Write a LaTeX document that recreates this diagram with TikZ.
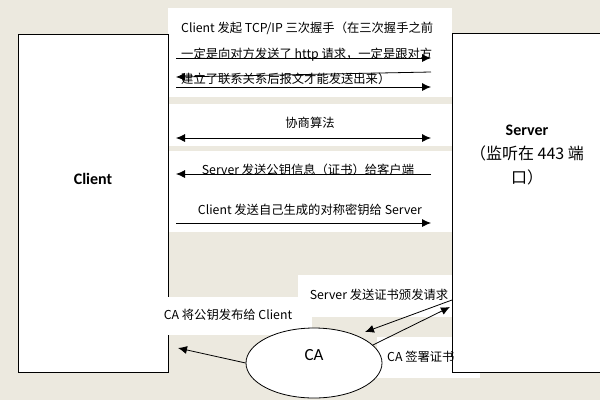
\documentclass[tikz,border=0pt]{standalone}
\usepackage{fontspec}
\setmainfont{Noto Sans CJK SC}
\newfontfamily\headfont{Carlito}
\usetikzlibrary{shapes.geometric,arrows.meta}
\definecolor{paper}{HTML}{ECE9DF}

\begin{document}
    \begin{tikzpicture}[x=1pt, y=-1pt, >={Latex[length=9pt, width=8pt]},
            side/.style={draw, line width=0.8pt, fill=white, anchor=north west},
            pane/.style={fill=white},
            note/.style={font=\fontsize{12.3}{25.5}\selectfont, inner sep=0pt},
            head/.style={font=\headfont\fontsize{16}{24}\selectfont\bfseries},
            msg/.style={line width=0.8pt, ->}]
        \fill[paper] (0,0) rectangle (600,400);
        \useasboundingbox (0,0) rectangle (600,400);
        \fill[pane] (168,8) rectangle (452,97);
        \fill[pane] (168,104) rectangle (452,146);
        \fill[pane] (168,151) rectangle (452,232);
        \fill[pane] (298,275) rectangle (452,317);
        \fill[pane] (377,337) rectangle (480,378);
        \node[side, minimum width=150, minimum height=338] (client) at (18,34) {};
        \node[side, minimum width=170, minimum height=339] (server) at (452,33) {};
        \fill[pane] (157,297) rectangle (312,335);
        \node[head] (clientname) at (93,179) {Client};
        \node[align=center, font=\fontsize{16}{24}\selectfont] (servername) at (527,155)
            {{\headfont\bfseries Server}\\（监听在 443 端\\口）};
        \node[note, align=left, anchor=west] (shake) at (181,53.5)
            {Client 发起 TCP/IP 三次握手（在三次握手之前\\
             一定是向对方发送了 http 请求，一定是跟对方\\
             建立了联系关系后报文才能发送出来）};
        \node[note] (algo) at (310,123) {协商算法};
        \node[note] (pubkey) at (308,170) {Server 发送公钥信息（证书）给客户端};
        \node[note] (symkey) at (310,210) {Client 发送自己生成的对称密钥给 Server};
        \node[note] (req) at (379,295) {Server 发送证书颁发请求};
        \node[note] (pub) at (228,315) {CA 将公钥发布给 Client};
        \node[note, anchor=west] (sign) at (387,357) {CA 签署证书};
        \foreach \i/\yl/\yr in {1/58/58, 2/77/72, 3/87/87, 4/138/138, 5/174/174, 6/223/223} {
            \coordinate (c\i) at (176,\yl);
            \coordinate (s\i) at (431,\yr);
        }
        \draw[msg] (c1) -- (s1);
        \draw[msg] (s2) -- (c2);
        \draw[msg] (c3) -- (s3);
        \draw[msg, <->] (c4) -- (s4);
        \draw[msg] (s5) -- (c5);
        \draw[msg] (c6) -- (s6);
        \node[ellipse, draw, fill=white, line width=0.8pt,
            minimum width=136, minimum height=70] (ca) at (314,363) {};
        \node[font=\headfont\fontsize{17}{20}\selectfont] (caname) at ([yshift=8pt]ca.center) {CA};
        \coordinate (capub) at (178,348);
        \coordinate (careq) at (365,332);
        \coordinate (srvreq) at (452,300);
        \coordinate (srvsign) at (450,307);
        \draw[msg] (ca.west) -- (capub);
        \draw[msg] (srvreq) -- (careq);
        \draw[msg] (ca.17) -- (srvsign);
    \end{tikzpicture}
\end{document}
